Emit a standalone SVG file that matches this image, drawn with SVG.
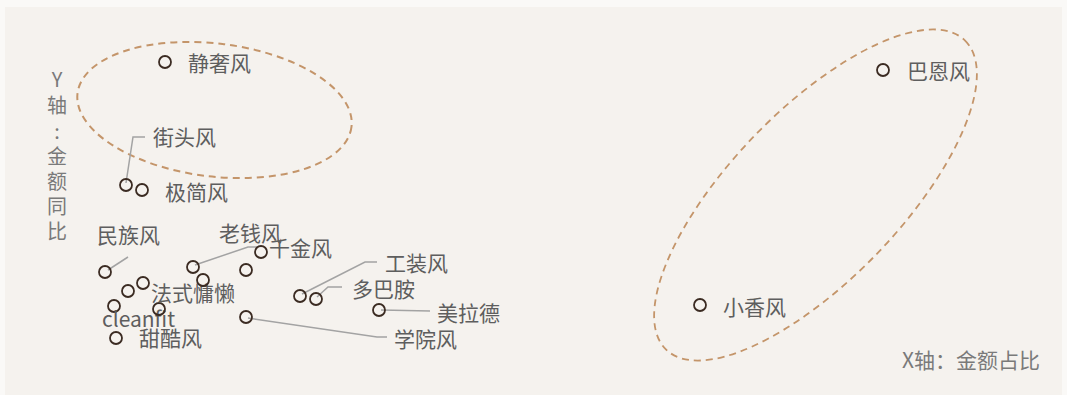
<svg xmlns="http://www.w3.org/2000/svg" width="1067" height="395" viewBox="0 0 1067 395">
<style>
.lbl{font-family:"Noto Sans CJK SC","Noto Sans",sans-serif;font-size:21px;fill:#5e5e5e}
.ax{font-family:"Noto Sans CJK SC","Noto Sans",sans-serif;font-size:21px;fill:#7a7a7a}
.axv{font-family:"Noto Sans CJK SC","Noto Sans",sans-serif;font-size:20px;fill:#7a7a7a;text-anchor:middle}
.pt{fill:none;stroke:#3b2b22;stroke-width:1.8}
.ld{fill:none;stroke:#a3a3a3;stroke-width:1.5}
.grp{fill:none;stroke:#c4956a;stroke-dasharray:7 5}
</style>
<rect x="0" y="0" width="1067" height="395" fill="#faf9f7"/>
<rect x="5" y="7" width="1057" height="388" fill="#f5f2ee"/>
<g id="groups">
<ellipse class="grp" cx="214.5" cy="110" rx="138" ry="66.5" transform="rotate(7 214.5 110)" stroke-width="2"/>
<ellipse class="grp" cx="815.5" cy="195" rx="215" ry="85" transform="rotate(-46 815.5 195)" stroke-width="1.8"/>
</g>
<g id="connectors">
<polyline class="ld" points="145,137 133,137 126,183"/>
<polyline class="ld" points="108,270 128,257"/>
<polyline class="ld" points="195,265 248,247 258,247"/>
<polyline class="ld" points="302,294 365,262 377,262"/>
<polyline class="ld" points="317,297 328,287 342,287"/>
<polyline class="ld" points="381,310 430,311"/>
<polyline class="ld" points="248,318 377,337 387,337"/>
</g>
<g id="axis-y">
<text class="axv" x="57" y="87">Y</text>
<text class="axv" x="57" y="113">轴</text>
<text class="axv" x="57" y="139">:</text>
<text class="axv" x="57" y="164">金</text>
<text class="axv" x="57" y="189">额</text>
<text class="axv" x="57" y="214">同</text>
<text class="axv" x="57" y="239">比</text>
</g>
<g id="axis-x"><text class="ax" x="902" y="368">X轴：金额占比</text></g>
<g id="n-jingshe"><circle class="pt" cx="165" cy="62" r="6"/><text class="lbl" x="188" y="71">静奢风</text></g>
<g id="n-jietou"><circle class="pt" cx="126" cy="185" r="6"/><text class="lbl" x="153" y="145">街头风</text></g>
<g id="n-jijian"><circle class="pt" cx="142" cy="190" r="6"/><text class="lbl" x="165" y="200">极简风</text></g>
<g id="n-minzu"><circle class="pt" cx="105" cy="272" r="6"/><text class="lbl" x="97" y="243">民族风</text></g>
<g id="n-a"><circle class="pt" cx="128" cy="291" r="6"/></g>
<g id="n-b"><circle class="pt" cx="143" cy="283" r="6"/></g>
<g id="n-cleanfit"><circle class="pt" cx="114" cy="306" r="6"/><text class="lbl" x="102" y="327">cleanfit</text></g>
<g id="n-fashi"><circle class="pt" cx="159" cy="309" r="6"/><text class="lbl" x="151" y="301">法式慵懒</text></g>
<g id="n-tianku"><circle class="pt" cx="116" cy="338" r="6"/><text class="lbl" x="139" y="346">甜酷风</text></g>
<g id="n-laoqian"><circle class="pt" cx="193" cy="267" r="6"/><text class="lbl" x="219" y="241">老钱风</text></g>
<g id="n-c"><circle class="pt" cx="203" cy="280" r="6"/></g>
<g id="n-d"><circle class="pt" cx="246" cy="270" r="6"/></g>
<g id="n-qianjin"><circle class="pt" cx="261" cy="252" r="6"/><text class="lbl" x="269" y="256">千金风</text></g>
<g id="n-xueyuan"><circle class="pt" cx="246" cy="317" r="6"/><text class="lbl" x="394" y="347">学院风</text></g>
<g id="n-gongzhuang"><circle class="pt" cx="300" cy="296" r="6"/><text class="lbl" x="385" y="271">工装风</text></g>
<g id="n-duobaan"><circle class="pt" cx="316" cy="299" r="6"/><text class="lbl" x="352" y="297">多巴胺</text></g>
<g id="n-meilade"><circle class="pt" cx="379" cy="310" r="6"/><text class="lbl" x="437" y="321">美拉德</text></g>
<g id="n-baen"><circle class="pt" cx="883" cy="70" r="6"/><text class="lbl" x="907" y="79">巴恩风</text></g>
<g id="n-xiaoxiang"><circle class="pt" cx="700" cy="305" r="6"/><text class="lbl" x="723" y="315">小香风</text></g>
</svg>
